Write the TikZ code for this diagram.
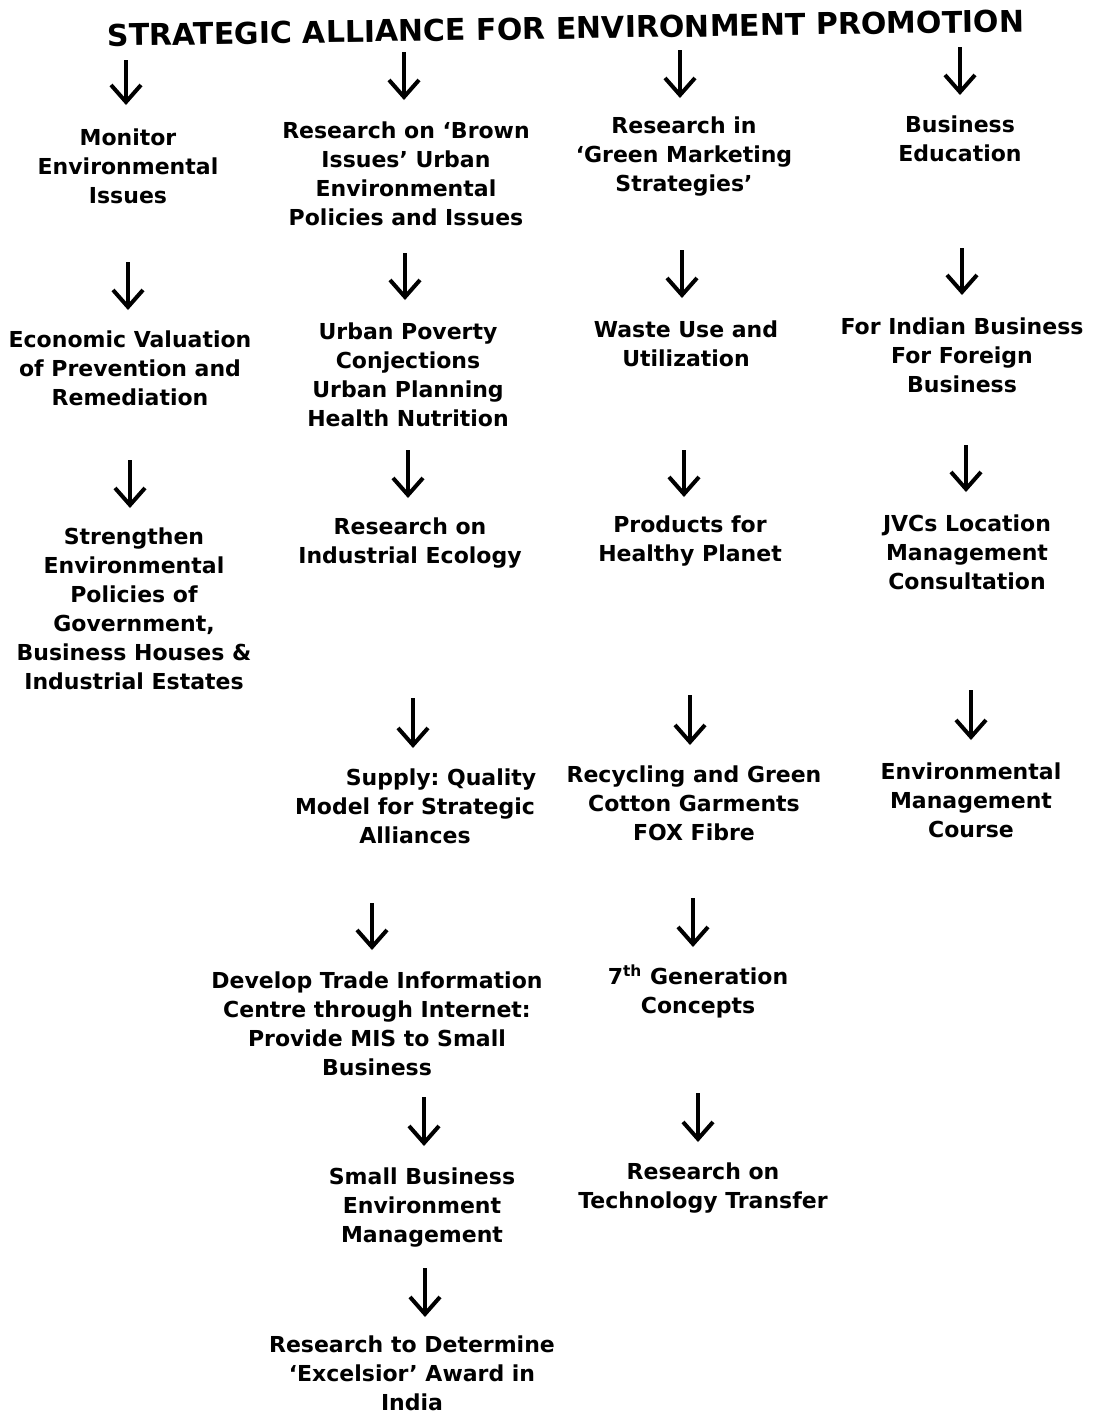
\documentclass[tikz,border=0pt]{standalone}
\usepackage{fontspec}
\setmainfont{DejaVu Sans}
\usepackage{tikz}
\usetikzlibrary{arrows.meta}

\tikzset{
	item/.style={align=center,inner sep=0pt,font=\frenchspacing\bfseries\fontsize{11}{14.5}\selectfont},
	heading/.style={inner sep=0pt,font=\bfseries\fontsize{15}{18}\selectfont},
	flow/.style={line width=2pt,-{Straight Barb[length=8.5pt,width=15pt,line width=2pt]}}
}

\begin{document}
\begin{tikzpicture}[x=0.5pt,y=-0.5pt]
	\useasboundingbox[fill=white] (0,0) rectangle (1095,1415);

	\node[heading,rotate=0.9] (title) at (566,28) {STRATEGIC ALLIANCE FOR ENVIRONMENT PROMOTION};

	% first column
	\node[item] (monitor) at (128,166) {Monitor\\Environmental\\Issues};
	\node[item] (valuation) at (130,368) {Economic Valuation\\of Prevention and\\Remediation};
	\node[item] (strengthen) at (134,609) {Strengthen\\Environmental\\Policies of\\Government,\\Business Houses \&\\Industrial Estates};

	% second column
	\node[item] (brown) at (406,174) {Research on ‘Brown\\Issues’ Urban\\Environmental\\Policies and Issues};
	\node[item] (poverty) at (408,375) {Urban Poverty\\Conjections\\Urban Planning\\Health Nutrition};
	\node[item] (ecology) at (410,543) {Research on\\Industrial Ecology};
	\node[item] (supply) at (415,806) {\hspace*{26pt}Supply: Quality\\Model for Strategic\\Alliances};
	\node[item] (trade) at (377,1024) {Develop Trade Information\\Centre through Internet:\\Provide MIS to Small\\Business};
	\node[item] (smallbiz) at (422,1207) {Small Business\\Environment\\Management};
	\node[item] (excelsior) at (412,1373) {Research to Determine\\‘Excelsior’ Award in\\India};

	% third column
	\node[item] (green) at (684,157) {Research in\\‘Green Marketing\\Strategies’};
	\node[item] (waste) at (686,344) {Waste Use and\\Utilization};
	\node[item] (planet) at (690,541) {Products for\\Healthy Planet};
	\node[item] (recycle) at (694,803) {Recycling and Green\\Cotton Garments\\FOX Fibre};
	\node[item] (seventh) at (698,991) {7\textsuperscript{th} Generation\\Concepts};
	\node[item] (transfer) at (703,1188) {Research on\\Technology Transfer};

	% fourth column
	\node[item] (education) at (960,139) {Business\\Education};
	\node[item] (indian) at (962,355) {For Indian Business\\For Foreign\\Business};
	\node[item] (jvc) at (967,552) {JVCs Location\\Management\\Consultation};
	\node[item] (course) at (971,800) {Environmental\\Management\\Course};

	% arrows
	\foreach \n/\x/\ya/\yb in {a1/126/60/105, a2/404/52/100, a3/680/50/98, a4/960/47/95,
		b1/128/262/310, b2/405/253/300, b3/682/250/298, b4/962/248/295,
		c1/130/460/508, c2/408/450/498, c3/684/450/497, c4/966/445/492,
		d2/413/698/748, d3/690/695/745, d4/971/690/740,
		e2/372/903/950, e3/693/898/947,
		f2/424/1097/1146, f3/698/1093/1142,
		g2/425/1268/1317}
	{
		\coordinate (\n s) at (\x,\ya);
		\coordinate (\n e) at (\x,\yb);
		\draw[flow] (\n s) -- (\n e);
	}
\end{tikzpicture}
\end{document}
